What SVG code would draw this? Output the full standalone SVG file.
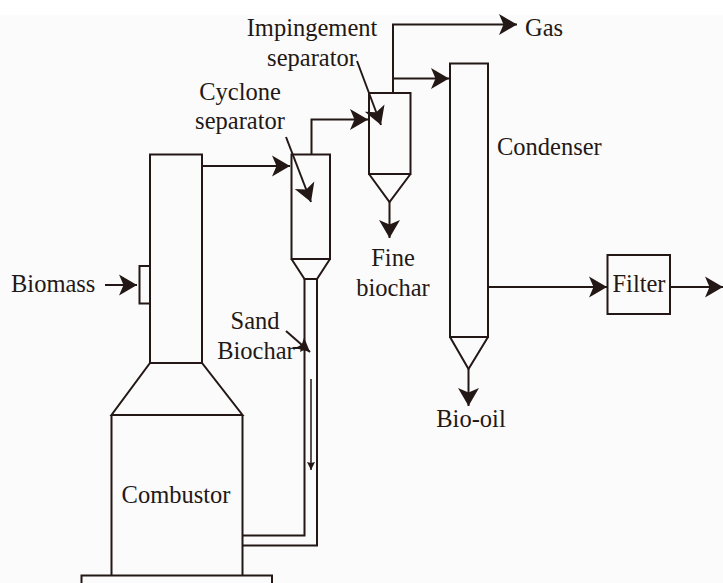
<svg xmlns="http://www.w3.org/2000/svg" width="723" height="583" viewBox="0 0 723 583">
<defs>
<marker id="a" markerUnits="userSpaceOnUse" markerWidth="22" markerHeight="24" refX="18" refY="10.500" orient="auto" overflow="visible"><path d="M0,0L18,10.500L0,21L4.500,10.500Z" fill="#231815"/></marker>
<marker id="m" markerUnits="userSpaceOnUse" markerWidth="16" markerHeight="18" refX="14" refY="7" orient="auto" overflow="visible"><path d="M0,0L14,7L0,14L3,7Z" fill="#231815"/></marker>
<marker id="s" markerUnits="userSpaceOnUse" markerWidth="10" markerHeight="12" refX="8" refY="4" orient="auto" overflow="visible"><path d="M0,0L8,4L0,8L1,4Z" fill="#231815"/></marker>
</defs>
<style>
.o{fill:none;stroke:#231815;stroke-width:2}
.l{fill:none;stroke:#231815;stroke-width:2}
.t{font-family:"Liberation Serif",serif;font-size:24.500px;fill:#231815}
.m{text-anchor:middle}
</style>
<rect width="723" height="583" fill="#fff"/>
<rect x="0" y="15" width="723" height="568" fill="#fbfbfb"/>
<g id="combustor">
<path class="o" d="M150,363H202L242.500,415H111.500Z"/>
<path class="o" d="M111.500,415V575M242.500,415V575"/>
<text class="t m" x="176" y="503">Combustor</text>
</g>
<g id="base"><path class="o" d="M81.500,583V575.500H272V583"/></g>
<g id="riser"><path class="o" d="M150,363V154.500H202V363"/></g>
<g id="feeder"><path class="o" d="M150,266H139.500V303.500H150"/></g>
<g id="cyclone">
<rect class="o" x="291.500" y="154.500" width="38.500" height="104.500"/>
<path class="o" d="M291.500,259L304.500,279H317L330,259"/>
<text class="t m" x="240" y="100">Cyclone</text>
<text class="t m" x="240" y="129">separator</text>
</g>
<g id="standpipe">
<path class="o" d="M304.500,279V535.500H243M317,279V545.500H243"/>
<text class="t m" x="255" y="329">Sand</text>
<text class="t m" x="256" y="359">Biochar</text>
</g>
<g id="impingement">
<rect class="o" x="369" y="93" width="41.500" height="81"/>
<path class="o" d="M369,174L389.500,202L410.500,174"/>
<text class="t m" x="312" y="36">Impingement</text>
<text class="t m" x="312" y="66">separator</text>
</g>
<g id="condenser">
<rect class="o" x="450" y="63.500" width="38" height="273.500"/>
<path class="o" d="M450,337L468.500,369L488,337"/>
<text class="t" x="497" y="155">Condenser</text>
</g>
<g id="filter">
<rect class="o" x="607.500" y="255" width="62.500" height="59"/>
<text class="t m" x="639" y="292">Filter</text>
</g>
<g id="labels">
<text class="t" x="11" y="292">Biomass</text>
<text class="t" x="525" y="36">Gas</text>
<text class="t m" x="393" y="266">Fine</text>
<text class="t m" x="393" y="296">biochar</text>
<text class="t m" x="471" y="427">Bio-oil</text>
</g>
<g id="connectors">
<path class="l" d="M105,285H137" marker-end="url(#a)"/>
<path class="l" d="M202,166H290" marker-end="url(#a)"/>
<path class="l" d="M311.500,154V119.500H368" marker-end="url(#a)"/>
<path class="l" d="M393,93V24.500H517" marker-end="url(#a)"/>
<path class="l" d="M393,78.500H449" marker-end="url(#a)"/>
<path class="l" d="M389.500,202V238" marker-end="url(#a)"/>
<path class="l" d="M468.500,369V406" marker-end="url(#a)"/>
<path class="l" d="M488,287H607" marker-end="url(#a)"/>
<path class="l" d="M670,287H723" marker-end="url(#a)"/>
<path class="l" d="M286,137L311,202" marker-end="url(#a)"/>
<path class="l" d="M357,61L381,125" marker-end="url(#a)"/>
<path class="l" d="M286,331L310,352" marker-end="url(#m)"/>
<path class="l" d="M293,348H308" marker-end="url(#s)"/>
<path d="M311,379V470" fill="none" stroke="#231815" stroke-width="1.500" marker-end="url(#s)"/>
</g>
</svg>
